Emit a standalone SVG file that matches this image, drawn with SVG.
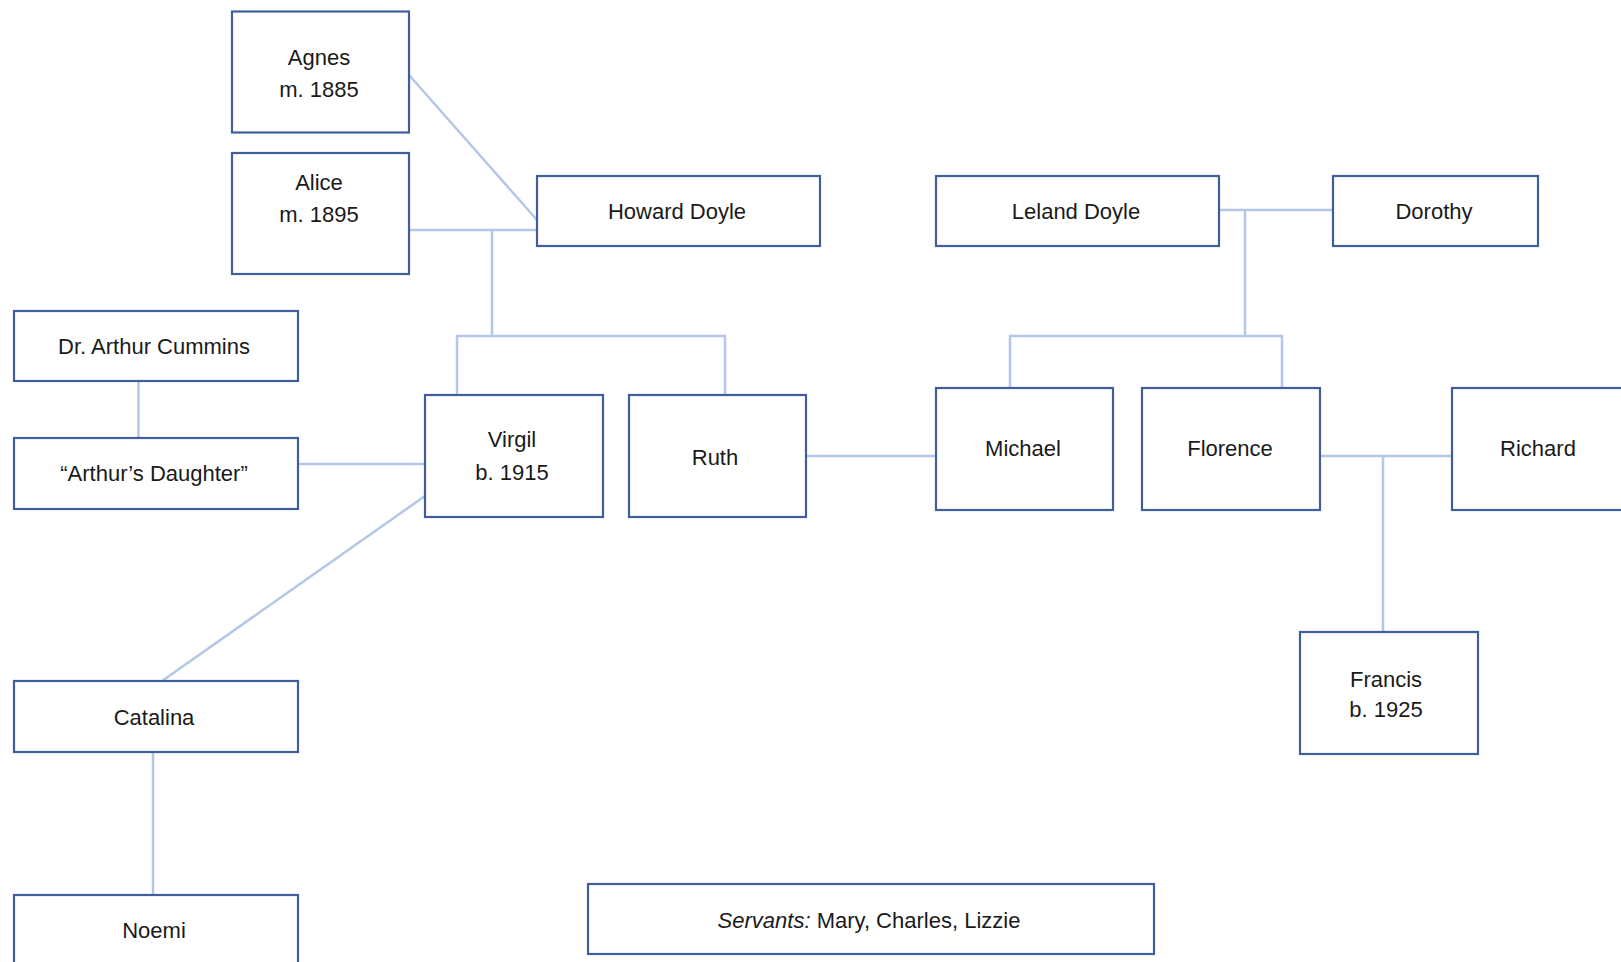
<svg xmlns="http://www.w3.org/2000/svg" width="1621" height="962" viewBox="0 0 1621 962">
<style>
.box{fill:#ffffff;stroke:#3f5f9c;stroke-width:2.2}
.t{font-family:"Liberation Sans",Arial,sans-serif;font-size:22px;fill:#1a1a1a;text-anchor:middle}
.c{fill:none;stroke:#b4c7e7;stroke-width:2.5}
</style>
<rect width="1621" height="962" fill="#ffffff"/>
<g id="connectors">
<line class="c" x1="409" y1="75" x2="537" y2="220"/>
<line class="c" x1="409" y1="230" x2="537" y2="230"/>
<polyline class="c" points="492,230 492,336"/>
<polyline class="c" points="457,395 457,336 725,336 725,395"/>
<line class="c" x1="1219" y1="210" x2="1333" y2="210"/>
<line class="c" x1="1245" y1="210" x2="1245" y2="336"/>
<polyline class="c" points="1010,388 1010,336 1282,336 1282,388"/>
<line class="c" x1="138.5" y1="381" x2="138.5" y2="438"/>
<line class="c" x1="298" y1="464" x2="425" y2="464"/>
<line class="c" x1="425" y1="496" x2="162" y2="681"/>
<line class="c" x1="153" y1="752" x2="153" y2="895"/>
<line class="c" x1="806" y1="456" x2="936" y2="456"/>
<line class="c" x1="1320" y1="456" x2="1452" y2="456"/>
<line class="c" x1="1383" y1="456" x2="1383" y2="632"/>
</g>
<g id="agnes"><rect class="box" x="232" y="11.5" width="177" height="121"/><text class="t" x="319" y="65">Agnes</text><text class="t" x="319" y="97">m. 1885</text></g>
<g id="alice"><rect class="box" x="232" y="153" width="177" height="121"/><text class="t" x="319" y="190">Alice</text><text class="t" x="319" y="222">m. 1895</text></g>
<g id="howard"><rect class="box" x="537" y="176" width="283" height="70"/><text class="t" x="677" y="219">Howard Doyle</text></g>
<g id="leland"><rect class="box" x="936" y="176" width="283" height="70"/><text class="t" x="1076" y="219">Leland Doyle</text></g>
<g id="dorothy"><rect class="box" x="1333" y="176" width="205" height="70"/><text class="t" x="1434" y="219">Dorothy</text></g>
<g id="arthur-cummins"><rect class="box" x="14" y="311" width="284" height="70"/><text class="t" x="154" y="354">Dr. Arthur Cummins</text></g>
<g id="arthurs-daughter"><rect class="box" x="14" y="438" width="284" height="71"/><text class="t" x="154" y="481">“Arthur’s Daughter”</text></g>
<g id="virgil"><rect class="box" x="425" y="395" width="178" height="122"/><text class="t" x="512" y="447">Virgil</text><text class="t" x="512" y="480">b. 1915</text></g>
<g id="ruth"><rect class="box" x="629" y="395" width="177" height="122"/><text class="t" x="715" y="465">Ruth</text></g>
<g id="michael"><rect class="box" x="936" y="388" width="177" height="122"/><text class="t" x="1023" y="456">Michael</text></g>
<g id="florence"><rect class="box" x="1142" y="388" width="178" height="122"/><text class="t" x="1230" y="456">Florence</text></g>
<g id="richard"><rect class="box" x="1452" y="388" width="180" height="122"/><text class="t" x="1538" y="456">Richard</text></g>
<g id="francis"><rect class="box" x="1300" y="632" width="178" height="122"/><text class="t" x="1386" y="687">Francis</text><text class="t" x="1386" y="717">b. 1925</text></g>
<g id="catalina"><rect class="box" x="14" y="681" width="284" height="71"/><text class="t" x="154" y="725">Catalina</text></g>
<g id="noemi"><rect class="box" x="14" y="895" width="284" height="80"/><text class="t" x="154" y="938">Noemi</text></g>
<g id="servants"><rect class="box" x="588" y="884" width="566" height="70"/><text class="t" x="869" y="928"><tspan font-style="italic">Servants:</tspan> Mary, Charles, Lizzie</text></g>
</svg>
